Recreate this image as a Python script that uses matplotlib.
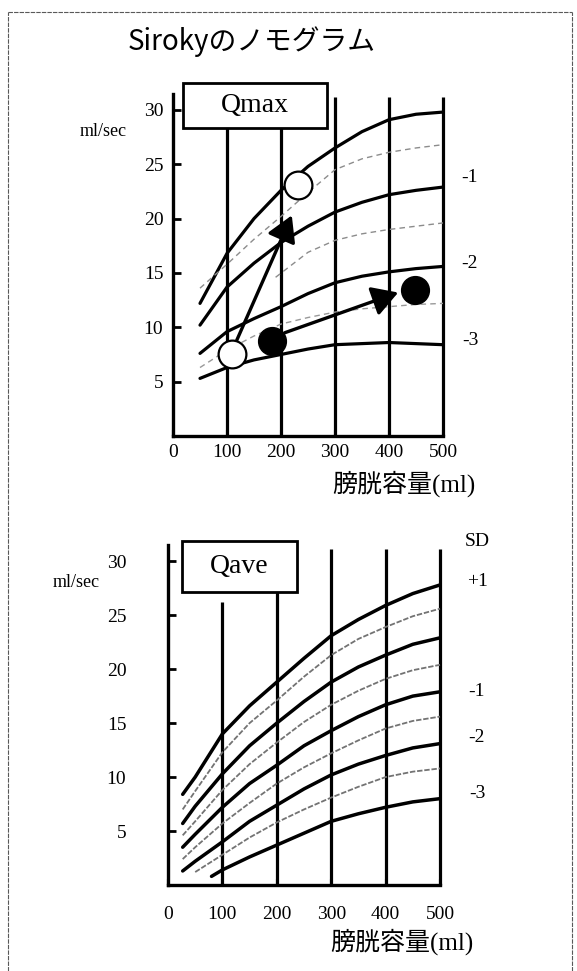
import matplotlib
matplotlib.use('Agg')
import matplotlib.pyplot as plt
from matplotlib.lines import Line2D
from matplotlib.patches import Rectangle

plt.rcParams['font.family'] = ['Liberation Serif', 'Noto Sans CJK JP']

# QMAX PANEL DATA ------------------------------------------------------------
QMAX_X = [50, 100, 150, 200, 250, 300, 350, 400, 450, 500]
QMAX_MEAN = [12.2, 16.8, 20.0, 22.6, 24.8, 26.5, 28.0, 29.1, 29.6, 29.8]
QMAX_M1 = [10.2, 13.7, 15.9, 17.8, 19.3, 20.6, 21.5, 22.2, 22.6, 22.9]
QMAX_M2 = [7.6, 9.6, 10.8, 11.9, 13.1, 14.1, 14.7, 15.1, 15.4, 15.6]
QMAX_M3 = [5.3, 6.3, 7.0, 7.5, 8.0, 8.4, 8.5, 8.6, 8.5, 8.4]
QMAX_M05 = [13.6, 15.8, 18.1, 20.2, 22.4, 24.5, 25.5, 26.1, 26.5, 26.8]
QMAX_M15_X = [190, 250, 300, 350, 400, 450, 500]
QMAX_M15 = [14.6, 16.9, 18.0, 18.6, 19.0, 19.3, 19.6]
QMAX_M25 = [6.3, 7.9, 9.2, 10.3, 10.9, 11.4, 11.7, 11.9, 12.1, 12.2]

OPEN_X = [109, 231]
OPEN_Y = [7.5, 23.1]
FILLED_X = [183, 448]
FILLED_Y = [8.7, 13.4]
ARROWS = [((118, 8.8), (220, 20.3)), ((207, 9.5), (417, 13.2))]

QMAX_SD_LABELS = ['-1', '-2', '-3']
QMAX_SD_Y = [23.8, 15.9, 8.8]

# QAVE PANEL DATA ------------------------------------------------------------
QAVE_X = [27, 50, 100, 150, 200, 250, 300, 350, 400, 450, 500]
QAVE_P1 = [8.4, 10.0, 14.0, 16.6, 18.8, 21.0, 23.1, 24.6, 25.9, 27.0, 27.8]
QAVE_MEAN = [5.7, 7.3, 10.3, 12.9, 15.0, 17.0, 18.8, 20.2, 21.3, 22.3, 22.9]
QAVE_M1 = [3.5, 4.7, 7.2, 9.4, 11.1, 12.9, 14.3, 15.6, 16.7, 17.5, 17.9]
QAVE_M2 = [1.3, 2.2, 4.0, 5.9, 7.4, 8.9, 10.2, 11.2, 12.0, 12.7, 13.1]
QAVE_M3_X = [80, 100, 150, 200, 250, 300, 350, 400, 450, 500]
QAVE_M3 = [0.8, 1.4, 2.6, 3.7, 4.8, 5.9, 6.6, 7.2, 7.7, 8.0]
QAVE_P05 = [7.0, 8.7, 12.3, 15.0, 17.1, 19.3, 21.3, 22.8, 23.9, 24.9, 25.6]
QAVE_M05 = [4.6, 5.9, 8.8, 11.2, 13.2, 15.1, 16.7, 18.0, 19.1, 19.9, 20.4]
QAVE_M15 = [2.4, 3.5, 5.7, 7.6, 9.4, 10.9, 12.2, 13.4, 14.5, 15.2, 15.6]
QAVE_M25_X = [50, 100, 150, 200, 250, 300, 350, 400, 450, 500]
QAVE_M25 = [1.2, 2.8, 4.4, 5.8, 7.0, 8.1, 9.1, 10.0, 10.5, 10.8]

QAVE_SD_LABELS = ['SD', '+1', '-1', '-2', '-3']
QAVE_SD_Y = [31.8, 28.1, 17.9, 13.7, 8.5]

GRID_X = [100, 200, 300, 400, 500]
X_TICKS = [0, 100, 200, 300, 400, 500]
Y_TICKS = [5, 10, 15, 20, 25, 30]

W, H = 577, 971


def setup_axes(ax, label_pad_y, label_pad_x):
    ax.set_xlim(0, 500)
    ax.set_ylim(0, 31.5)
    for s in ['top', 'right']:
        ax.spines[s].set_visible(False)
    for s in ['left', 'bottom']:
        ax.spines[s].set_linewidth(2.4)
    ax.set_xticks(X_TICKS)
    ax.set_yticks(Y_TICKS)
    ax.tick_params(axis='y', direction='in', length=6, width=2,
                   pad=label_pad_y, labelsize=14)
    ax.tick_params(axis='x', direction='in', length=4, width=1.5,
                   pad=label_pad_x, labelsize=14)
    ax.patch.set_alpha(0)


fig = plt.figure(figsize=(W / 100, H / 100), dpi=100)

# TOP PANEL: Qmax ------------------------------------------------------------
ax1 = fig.add_axes([173 / W, 1 - 436 / H, 270 / W, (436 - 93.6) / H])
setup_axes(ax1, 7, 6)
ax1.vlines(GRID_X, 0, [28.3, 28.3, 31.2, 31.2, 31.2], colors='k', lw=2.3,
           clip_on=False)
for ys in [QMAX_MEAN, QMAX_M1, QMAX_M2, QMAX_M3]:
    ax1.plot(QMAX_X, ys, color='k', lw=2.3, clip_on=False,
             solid_capstyle='round')
ax1.plot(QMAX_X, QMAX_M05, color='0.55', lw=1.0, ls=(0, (4, 3)))
ax1.plot(QMAX_M15_X, QMAX_M15, color='0.55', lw=1.0, ls=(0, (4, 3)))
ax1.plot(QMAX_X, QMAX_M25, color='0.6', lw=1.0, ls=(0, (4, 3)))

for (x0, y0), (x1, y1) in ARROWS:
    ax1.annotate('', xy=(x1, y1), xytext=(x0, y0),
                 arrowprops=dict(arrowstyle='-|>,head_length=0.6,head_width=0.35',
                                 color='k', lw=2.4, mutation_scale=26,
                                 shrinkA=0, shrinkB=0))
ax1.plot(OPEN_X, OPEN_Y, 'o', ms=20, mfc='white', mec='k', mew=1.6,
         zorder=5, clip_on=False)
ax1.plot(FILLED_X, FILLED_Y, 'o', ms=20, mfc='k', mec='k', zorder=5,
         clip_on=False)

ax1.add_patch(Rectangle((18.5, 28.3), 266, 4.2, fc='white', ec='k',
                        lw=2, clip_on=False, zorder=6))
ax1.text(152, 30.4, 'Qmax', ha='center', va='center', fontsize=20,
         zorder=7, clip_on=False)
for lab, y in zip(QMAX_SD_LABELS, QMAX_SD_Y):
    ax1.text(550, y, lab, ha='center', va='center', fontsize=14,
             clip_on=False)

# BOTTOM PANEL: Qave ---------------------------------------------------------
ax2 = fig.add_axes([168 / W, 1 - 885 / H, 272 / W, 340 / H])
setup_axes(ax2, 30, 15)
ax2.vlines(GRID_X, 0, [26.2, 27.1, 31.1, 31.1, 31.1], colors='k', lw=2.3,
           clip_on=False)
for xs, ys in [(QAVE_X, QAVE_P1), (QAVE_X, QAVE_MEAN), (QAVE_X, QAVE_M1),
               (QAVE_X, QAVE_M2), (QAVE_M3_X, QAVE_M3)]:
    ax2.plot(xs, ys, color='k', lw=2.5, clip_on=False,
             solid_capstyle='round')
for xs, ys in [(QAVE_X, QAVE_P05), (QAVE_X, QAVE_M05), (QAVE_X, QAVE_M15),
               (QAVE_M25_X, QAVE_M25)]:
    ax2.plot(xs, ys, color='0.45', lw=1.3, ls=(0, (3, 1)), clip_on=False)

ax2.add_patch(Rectangle((25.7, 27.1), 211, 4.75, fc='white', ec='k',
                        lw=2, clip_on=False, zorder=6))
ax2.text(131, 29.5, 'Qave', ha='center', va='center', fontsize=20,
         zorder=7, clip_on=False)
for lab, y in zip(QAVE_SD_LABELS, QAVE_SD_Y):
    ax2.text(568, y, lab, ha='center', va='center', fontsize=14,
             clip_on=False)

# FIGURE TEXTS ---------------------------------------------------------------
fig.text(252 / W, 1 - 42 / H, 'Sirokyのノモグラム', ha='center',
         va='center', fontsize=20, family=['Noto Sans CJK JP'])
fig.text(103 / W, 1 - 132 / H, 'ml/sec', ha='center', va='center',
         fontsize=13)
fig.text(76 / W, 1 - 582 / H, 'ml/sec', ha='center', va='center',
         fontsize=13)
fig.text(404 / W, 1 - 484 / H, '膀胱容量(ml)', ha='center', va='center',
         fontsize=18)
fig.text(402 / W, 1 - 942 / H, '膀胱容量(ml)', ha='center', va='center',
         fontsize=18)

# dashed outer frame
for xs, ys in [([8 / W, 8 / W], [0, 1 - 12 / H]),
               ([8 / W, 572 / W], [1 - 12 / H, 1 - 12 / H]),
               ([572 / W, 572 / W], [0, 1 - 12 / H])]:
    fig.add_artist(Line2D(xs, ys, transform=fig.transFigure, color='0.35',
                          lw=0.8, ls=(0, (4, 1))))

fig.savefig('out.png', dpi=100)
